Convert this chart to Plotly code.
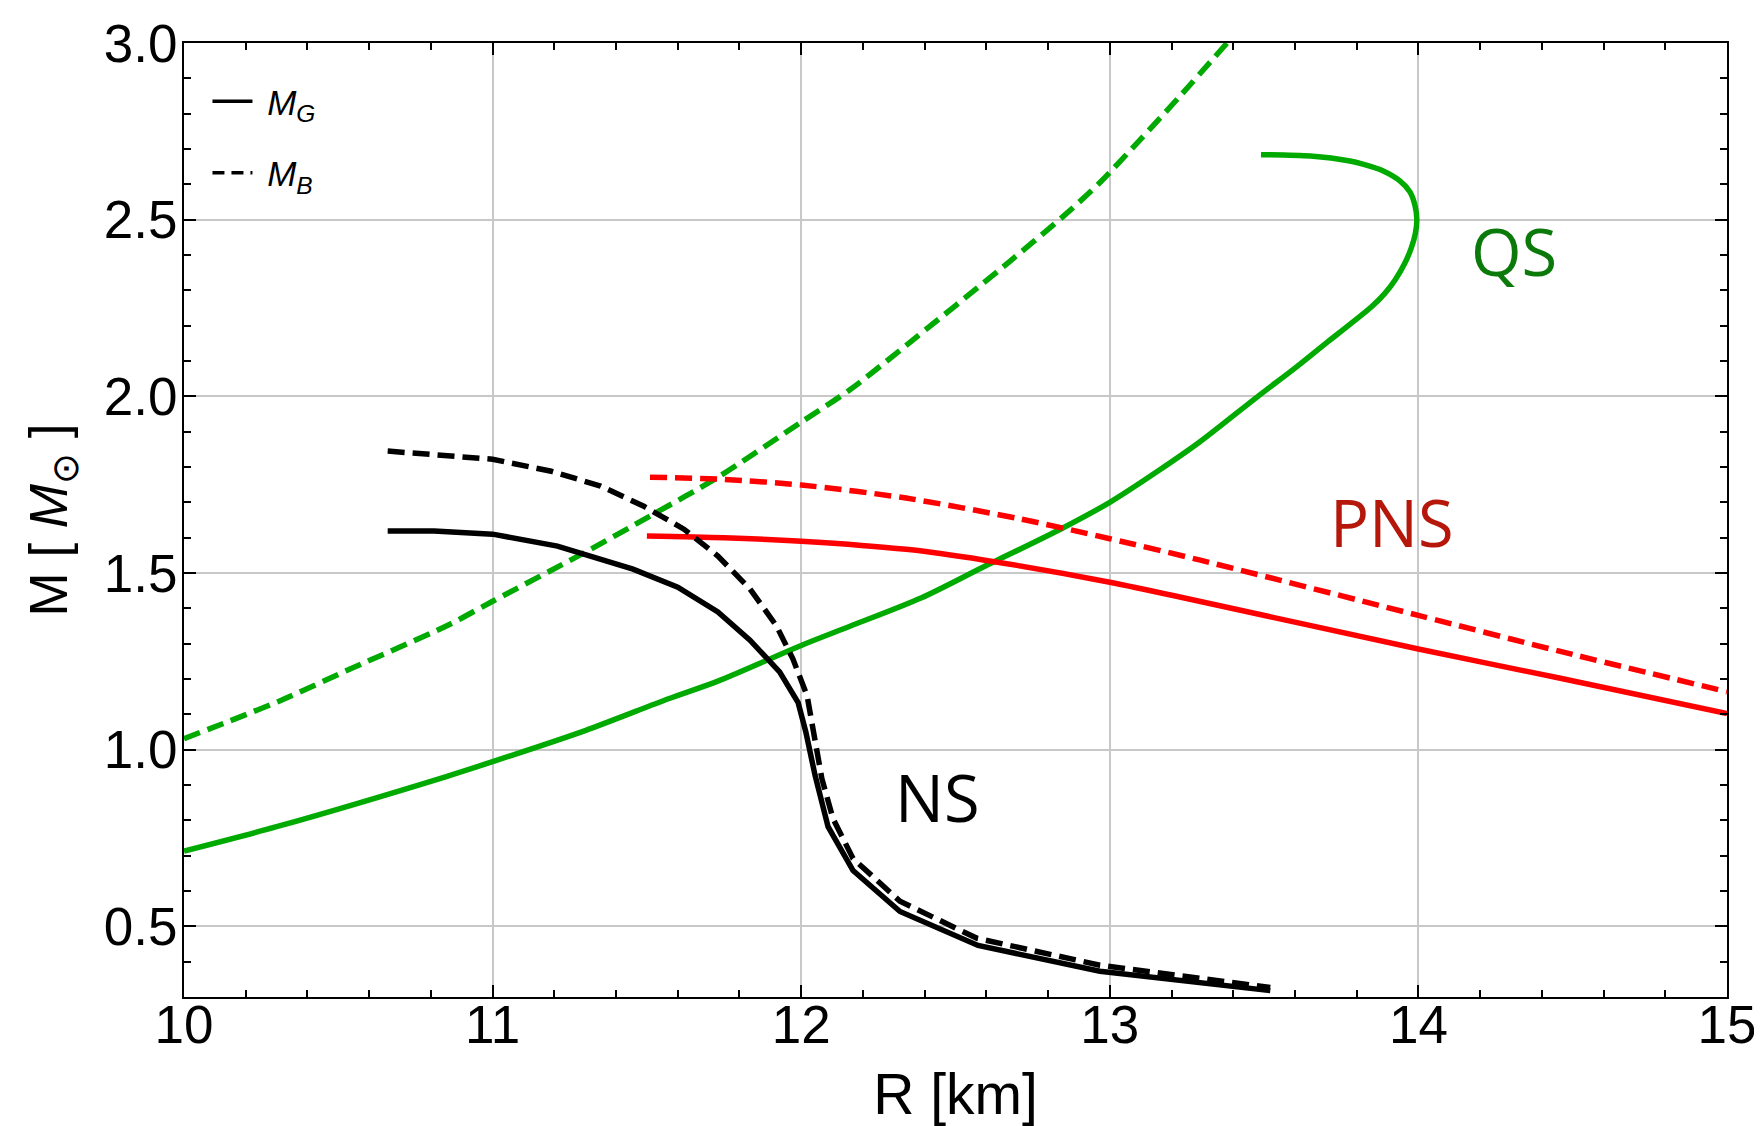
import plotly.graph_objects as go

# ---------------- data ----------------
# Quark star (QS), gravitational mass M_G
qs_r_g = [10.0, 10.30, 10.85, 11.0, 11.30, 11.57, 11.73, 12.0, 12.16, 12.39, 12.59,
          12.84, 13.0, 13.15, 13.29, 13.48, 13.60, 13.70, 13.78, 13.85, 13.89,
          13.925, 13.955, 13.977, 13.99, 13.995, 13.989, 13.973, 13.94, 13.886, 13.82,
          13.778, 13.65, 13.49]
qs_m_g = [0.713, 0.782, 0.924, 0.966, 1.054, 1.144, 1.194, 1.295, 1.35, 1.43, 1.517,
          1.624, 1.70, 1.785, 1.87, 2.0, 2.08, 2.15, 2.205, 2.255, 2.29,
          2.33, 2.375, 2.42, 2.46, 2.50, 2.54, 2.578, 2.61, 2.638, 2.657,
          2.666, 2.68, 2.684]
# Quark star (QS), baryonic mass M_B
qs_r_b = [10.0, 10.31, 10.54, 10.85, 11.0, 11.29, 11.51, 11.73, 12.0, 12.16, 12.32,
          12.68, 12.85, 12.968, 13.098, 13.237, 13.38]
qs_m_b = [1.031, 1.138, 1.229, 1.35, 1.42, 1.554, 1.661, 1.771, 1.927, 2.02, 2.13,
          2.385, 2.51, 2.605, 2.726, 2.859, 3.0]
# Neutron star (NS)
ns_r_g = [10.66, 10.81, 11.0, 11.21, 11.455, 11.60, 11.73, 11.834, 11.93, 11.99,
          12.015, 12.045, 12.087, 12.168, 12.32, 12.573, 12.968, 13.52]
ns_m_g = [1.619, 1.619, 1.61, 1.576, 1.511, 1.46, 1.39, 1.31, 1.22, 1.133,
          1.05, 0.927, 0.782, 0.658, 0.542, 0.446, 0.373, 0.318]
ns_r_b = [10.66, 11.0, 11.19, 11.35, 11.49, 11.62, 11.73, 11.834, 11.92, 11.973,
          12.019, 12.04, 12.067, 12.103, 12.168, 12.32, 12.57, 12.968, 13.52]
ns_m_b = [1.845, 1.822, 1.788, 1.746, 1.689, 1.624, 1.548, 1.455, 1.35, 1.257,
          1.153, 1.04, 0.918, 0.805, 0.692, 0.571, 0.466, 0.39, 0.327]
# Proto-neutron star (PNS)
pns_r_g = [11.5, 11.75, 12.0, 12.34, 12.59, 13.0, 13.29, 14.0, 14.46, 15.0]
pns_m_g = [1.605, 1.600, 1.590, 1.567, 1.537, 1.474, 1.420, 1.285, 1.202, 1.102]
pns_r_b = [11.51, 11.75, 12.0, 12.34, 12.71, 13.0, 13.29, 14.0, 14.46, 15.0]
pns_m_b = [1.771, 1.765, 1.749, 1.712, 1.653, 1.597, 1.537, 1.380, 1.278, 1.164]

# labels
label_text = ["QS", "PNS", "NS"]
label_r = [14.31, 13.915, 12.443]
label_m = [2.41, 1.645, 0.867]
label_color = ["#0b7a0b", "#b5170a", "#000000"]

x_range = [10, 15]
y_range = [0.3, 3.0]
x_ticks = [10, 11, 12, 13, 14, 15]
y_ticks = [0.5, 1.0, 1.5, 2.0, 2.5, 3.0]

# ---------------- styling ----------------
GREEN = "#00aa00"
RED = "#ff0000"
BLACK = "#000000"
LW = 5.5
DASH = "17px,8px"
FONT = "Liberation Sans, Arial, sans-serif"

fig = go.Figure()

def add_curve(x, y, color, dash, shape="linear"):
    fig.add_trace(go.Scatter(x=x, y=y, mode="lines",
                             line=dict(color=color, width=LW, dash=dash, shape=shape,
                                       smoothing=0.8),
                             showlegend=False, hoverinfo="skip", cliponaxis=True))

add_curve(qs_r_g, qs_m_g, GREEN, "solid", "spline")
add_curve(qs_r_b, qs_m_b, GREEN, DASH, "spline")
add_curve(pns_r_g, pns_m_g, RED, "solid", "spline")
add_curve(pns_r_b, pns_m_b, RED, DASH, "spline")
add_curve(ns_r_g, ns_m_g, BLACK, "solid")
add_curve(ns_r_b, ns_m_b, BLACK, DASH)

# legend entries
fig.add_trace(go.Scatter(x=[None], y=[None], mode="lines",
                         line=dict(color=BLACK, width=3.5, dash="solid"),
                         name="&nbsp;<i>M</i><sub><i>G</i></sub>", legendgroup="g"))
fig.add_trace(go.Scatter(x=[None], y=[None], mode="lines",
                         line=dict(color=BLACK, width=3.5, dash="12px,7px"),
                         name="&nbsp;<i>M</i><sub><i>B</i></sub>", legendgroup="b"))

for t, r, m, c in zip(label_text, label_r, label_m, label_color):
    fig.add_annotation(x=r, y=m, text=t, showarrow=False,
                       font=dict(family="Open Sans", size=65, color=c),
                       xanchor="center", yanchor="middle")

axis_common = dict(
    showline=True, linecolor=BLACK, linewidth=2, mirror="ticks",
    ticks="inside", ticklen=12, tickwidth=2, tickcolor=BLACK,
    showgrid=True, gridcolor="#c8c8c8", gridwidth=2,
    zeroline=False, automargin=False,
    tickfont=dict(family=FONT, size=53, color=BLACK),
)

fig.update_xaxes(range=x_range, tickvals=x_ticks, ticktext=[str(v) for v in x_ticks],
                 ticklabelstandoff=-20,
                 minor=dict(dtick=0.2, ticks="inside", ticklen=7, tickwidth=2,
                            tickcolor=BLACK, showgrid=False),
                 title=dict(text="R [km]", standoff=24,
                            font=dict(family=FONT, size=57, color=BLACK)),
                 **axis_common)
fig.update_yaxes(range=y_range, tickvals=y_ticks, ticktext=[f"{v:.1f}" for v in y_ticks],
                 ticklabelstandoff=-6,
                 minor=dict(dtick=0.1, ticks="inside", ticklen=7, tickwidth=2,
                            tickcolor=BLACK, showgrid=False),
                 title=dict(text="M [ <i>M</i><sub>⊙</sub> ]", standoff=19,
                            font=dict(family=FONT, size=53, color=BLACK)),
                 **axis_common)

# the page body has an 8px margin, so the figure is sized/offset to compensate
fig.update_layout(
    width=1754, height=1118,
    margin=dict(l=176, r=35, t=35, b=129),
    paper_bgcolor="white", plot_bgcolor="white",
    showlegend=True,
    legend=dict(x=0.0152, y=0.9696, xanchor="left", yanchor="top",
                bgcolor="rgba(0,0,0,0)", tracegroupgap=23,
                font=dict(family=FONT, size=35, color=BLACK),
                itemwidth=40),
)

fig.write_html("out.html")
